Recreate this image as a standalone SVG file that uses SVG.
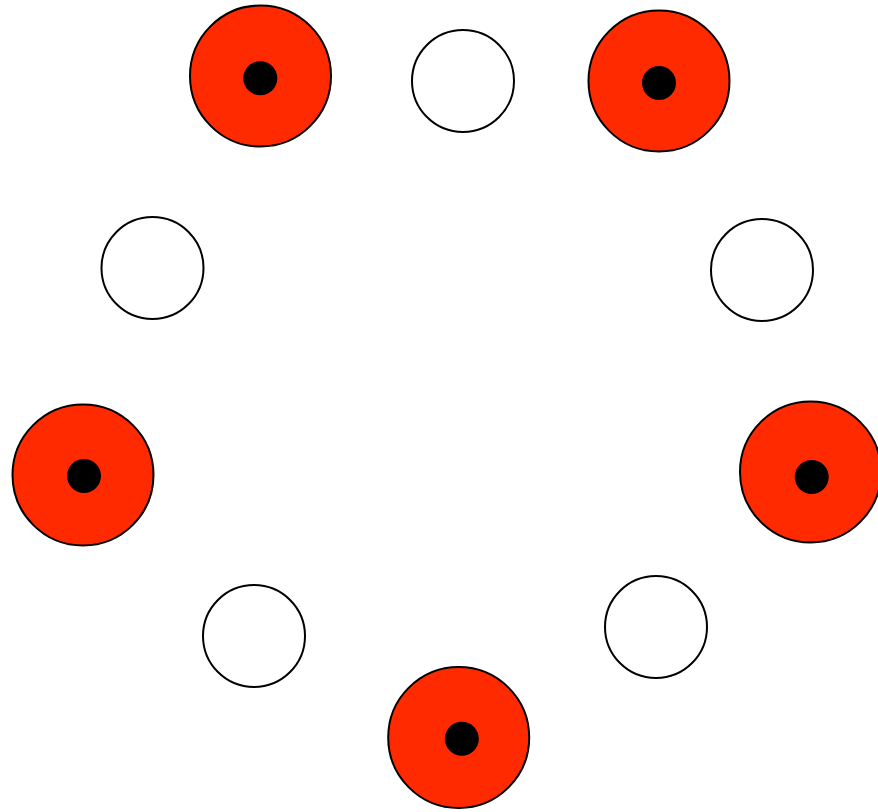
<svg xmlns="http://www.w3.org/2000/svg" width="878" height="812" viewBox="0 0 878 812">
<style>
.red{fill:#ff2a00;stroke:#000;stroke-width:2}
.dot{fill:#000}
.white{fill:#fff;stroke:#000;stroke-width:2}
</style>
<rect width="878" height="812" fill="#fff"/>
<g id="connectors"></g>
<g id="r1"><circle class="red" cx="260.5" cy="76" r="70.5"/><circle class="dot" cx="260.3" cy="78.3" r="17"/></g>
<g id="r2"><circle class="red" cx="659" cy="81" r="70.5"/><circle class="dot" cx="659" cy="83" r="17"/></g>
<g id="r3"><circle class="red" cx="83" cy="475" r="70.5"/><circle class="dot" cx="84" cy="476" r="17"/></g>
<g id="r4"><circle class="red" cx="810.5" cy="472" r="70.5"/><circle class="dot" cx="811.7" cy="477" r="17"/></g>
<g id="r5"><circle class="red" cx="458.7" cy="737.5" r="70.5"/><circle class="dot" cx="461.8" cy="738.8" r="17"/></g>
<g id="w1"><circle class="white" cx="463" cy="81" r="51"/></g>
<g id="w2"><circle class="white" cx="152.5" cy="268" r="51"/></g>
<g id="w3"><circle class="white" cx="762" cy="270" r="51"/></g>
<g id="w4"><circle class="white" cx="254" cy="636" r="51"/></g>
<g id="w5"><circle class="white" cx="656" cy="627" r="51"/></g>
</svg>
